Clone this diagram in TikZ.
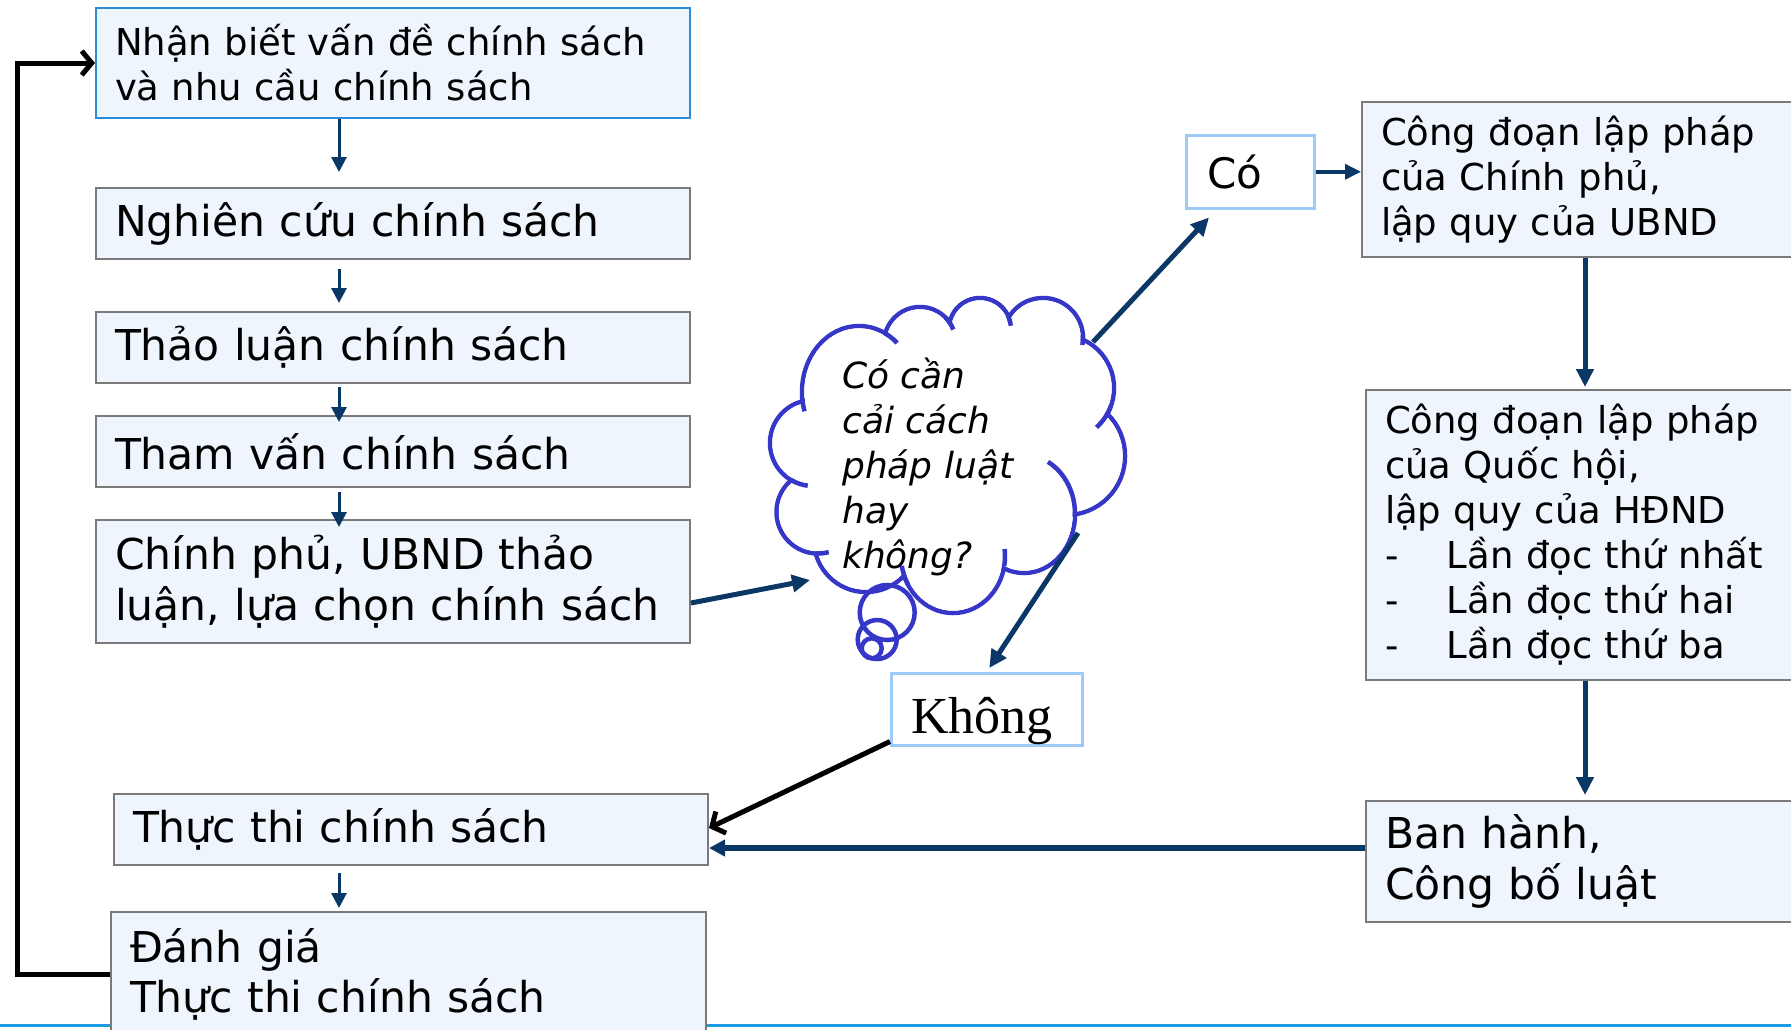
\documentclass[tikz,border=0pt]{standalone}
\usepackage{fontspec}
\setmainfont{DejaVu Sans}
\newfontfamily\timesfont{Liberation Serif}
\usetikzlibrary{arrows.meta,calc}
\definecolor{boxfill}{HTML}{EEF5FC}
\definecolor{boxgray}{HTML}{7A7A7A}
\definecolor{boxblue}{HTML}{2E8BD8}
\definecolor{lightbl}{HTML}{9DCBF5}
\definecolor{navy}{HTML}{0B3766}
\definecolor{cloudc}{HTML}{3636C8}
\definecolor{bottomline}{HTML}{1C9AE2}
\begin{document}
\lineskiplimit=-100pt
\begin{tikzpicture}[x=1pt,y=-1pt,
  box/.style={draw=boxgray, line width=2pt, fill=boxfill, anchor=north west,
    inner xsep=19pt, inner ysep=0pt, align=left},
  bigf/.style={font=\fontsize{42.5}{50.5}\selectfont},
  smallf/.style={font=\fontsize{37}{45}\selectfont},
  answer/.style={draw=lightbl, line width=2.5pt, fill=white, anchor=north west,
    inner ysep=0pt, align=left, text depth=0pt},
  thinarr/.style={draw=navy, line width=3pt, -{Triangle[length=15pt,width=15pt]}},
  midarr/.style={draw=navy, line width=3.5pt, -{Triangle[length=16pt,width=15pt]}},
  thickarr/.style={draw=navy, line width=5pt, -{Triangle[length=18pt,width=17pt]}},
  blackarr/.style={draw=black, line width=5pt, -{Straight Barb[length=10pt,width=24pt]}},
  cloudline/.style={draw=cloudc, line width=4.5pt},
  cloudtext/.style={font=\fontsize{36}{45}\selectfont\itshape, align=left, inner sep=0pt}
]
\useasboundingbox (0,0) rectangle (1791,1029);
\clip (0,0) rectangle (1791,1029);
\fill[white] (0,0) rectangle (1791,1029);

% bottom rule of the slide
\coordinate (bl) at (0,1025);
\coordinate (br) at (1791,1025);
\draw[bottomline, line width=3pt] (bl) -- (br);

% left column
\node[box, smallf, draw=boxblue, minimum width=594pt, text width=556pt, minimum height=110pt] (b1) at (95,7)
  {Nhận biết vấn đề chính sách\\và nhu cầu chính sách};
\node[box, bigf, minimum width=594pt, text width=556pt, minimum height=71pt] (b2) at (95,187)
  {Nghiên cứu chính sách};
\node[box, bigf, minimum width=594pt, text width=556pt, minimum height=71pt] (b3) at (95,311)
  {Thảo luận chính sách};
\node[box, bigf, minimum width=594pt, text width=556pt, minimum height=71pt] (b4) at (95,415)
  {Tham vấn chính sách};
\node[box, bigf, minimum width=594pt, text width=556pt, minimum height=123pt] (b5) at (95,519)
  {Chính phủ, UBND thảo\\luận, lựa chọn chính sách};
\node[box, bigf, minimum width=594pt, text width=556pt, minimum height=71pt] (b6) at (113,793)
  {Thực thi chính sách};
\node[box, bigf, minimum width=595pt, text width=557pt, minimum height=125pt] (b7) at (110,911)
  {Đánh giá\\Thực thi chính sách};

% right column
\node[box, smallf, minimum width=470pt, text width=432pt, minimum height=155pt] (cp) at (1361,101)
  {Công đoạn lập pháp\\của Chính phủ,\\lập quy của UBND};
\node[box, smallf, minimum width=470pt, text width=432pt, minimum height=290pt] (qh) at (1365,389)
  {Công đoạn lập pháp\\của Quốc hội,\\lập quy của HĐND\\\makebox[62pt][l]{-}Lần đọc thứ nhất\\\makebox[62pt][l]{-}Lần đọc thứ hai\\\makebox[62pt][l]{-}Lần đọc thứ ba};
\node[box, bigf, minimum width=470pt, text width=432pt, minimum height=121pt] (bh) at (1365,800)
  {Ban hành,\\Công bố luật};

% answers
\node[answer, font=\fontsize{42}{50}\selectfont, minimum width=128pt, minimum height=73pt,
  inner xsep=21pt, text width=86pt, text height=33pt] (co) at (1185,134) {Có};
\node[answer, font=\timesfont\fontsize{52}{60}\selectfont, minimum width=191pt, minimum height=72pt,
  inner xsep=20pt, text width=151pt, text height=49pt] (ko) at (890,672) {Không};

% thought cloud: union of lobes
\def\lobes{813/443/43/43, 859/392/57/66, 920/343/36/36, 980/329/31/31, 1043/338/40/40,
  1061/388/53/53, 1066/456/59/59, 1024/514/51/59, 953/556/52/57, 866/540/52/52, 818/512/41.5/41.5}
\foreach \qx/\qy/\qa/\qb in \lobes
  \draw[cloudline] (\qx,\qy) ellipse[x radius=\qa pt, y radius=\qb pt];
\foreach \qx/\qy/\qa/\qb in \lobes
  \fill[white] (\qx,\qy) ellipse[x radius=\qa pt-2.25pt, y radius=\qb pt-2.25pt];
\fill[white] (813,443) -- (859,392) -- (920,343) -- (980,329) -- (1043,338) -- (1061,388)
  -- (1066,456) -- (1024,514) -- (953,556) -- (866,540) -- (818,512) -- cycle;
\foreach \qx/\qy/\qa/\qb/\qs/\qe in {859/392/57/66/185/197, 859/392/57/66/63/48,
  920/343/36/36/45/22, 980/329/31/31/25/6, 1043/338/40/40/5/-10, 1061/388/53/53/-20/-48,
  1024/514/51/59/-2/62, 953/556/52/57/-10/7, 953/556/52/57/210/190,
  818/512/41.5/41.5/-92/-75, 813/443/43/43/-120/-97}
  \draw[cloudline] ($(\qx,\qy)+(\qs:\qa pt and \qb pt)$)
    arc[start angle=\qs, end angle=\qe, x radius=\qa pt, y radius=\qb pt];
\draw[cloudline] (887.2,612.5) circle[radius=27.5pt];
\draw[cloudline] (877.2,639.5) circle[radius=19.5pt];
\draw[cloudline] (871.7,648.3) circle[radius=10pt];
\node[cloudtext, anchor=west] (q) at (842,467) {Có cần\\cải cách\\pháp luật\\hay\\không?};

% connectors, left column
\coordinate (ax) at (339,0);
\draw[thinarr, shorten >=15pt] (b1.south -| ax) -- (b2.north -| ax);
\draw[thinarr, shorten <=9pt, shorten >=8pt] (b2.south -| ax) -- (b3.north -| ax);
\draw[thinarr, shorten <=3pt, shorten >=-7pt] (b3.south -| ax) -- (b4.north -| ax);
\draw[thinarr, shorten <=4pt, shorten >=-8pt] (b4.south -| ax) -- (b5.north -| ax);
\draw[thinarr, shorten <=7pt, shorten >=3pt] (b6.south -| ax) -- (b7.north -| ax);

% cloud connectors
\coordinate (qin) at (810,580);
\coordinate (qco) at (1093,342);
\coordinate (qko) at (1078,533);
\draw[thickarr] ([yshift=-21.5pt]b5.east) -- (qin);
\draw[thickarr] (qco) -- ([xshift=24pt,yshift=-8pt]co.south west);
\draw[thickarr] (qko) -- ([xshift=2.5pt,yshift=4pt]ko.north);

% right column connectors
\coordinate (rx) at (1585,0);
\draw[midarr] (co.east) -- (co.east -| cp.west);
\draw[thickarr, shorten >=2pt] (cp.south -| rx) -- (qh.north -| rx);
\draw[thickarr, shorten >=5pt] (qh.south -| rx) -- (bh.north -| rx);
\coordinate (bhx) at ([yshift=13.5pt]bh.west);
\draw[draw=navy, line width=6pt, -{Triangle[length=16pt,width=16pt]}] (bhx) -- (bhx -| b6.east);

% black connectors
\draw[blackarr] ([yshift=5pt]ko.south west) -- ([yshift=1.5pt]b6.east);
\draw[blackarr] (b7.west) -- ++(-93,0) |- (b1.west);
\end{tikzpicture}
\end{document}
